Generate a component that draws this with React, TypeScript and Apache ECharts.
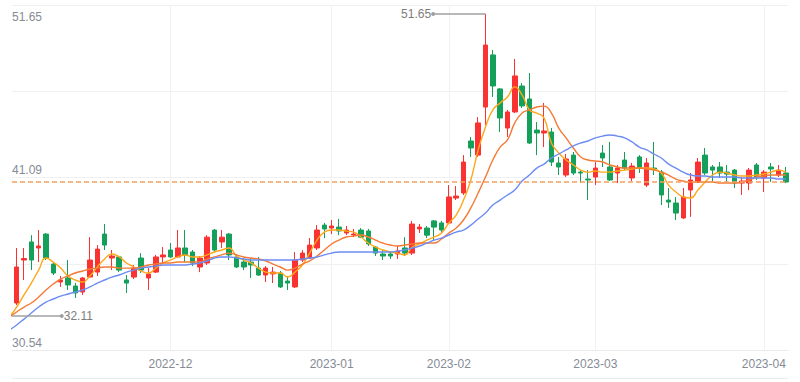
import React, { useEffect, useRef } from "react";
import * as echarts from "echarts";

const dates = [
  "2022-11-01","2022-11-02","2022-11-03","2022-11-04","2022-11-07","2022-11-08","2022-11-09","2022-11-10","2022-11-11","2022-11-14",
  "2022-11-15","2022-11-16","2022-11-17","2022-11-18","2022-11-21","2022-11-22","2022-11-23","2022-11-24","2022-11-25","2022-11-28",
  "2022-11-29","2022-11-30","2022-12-01","2022-12-02","2022-12-05","2022-12-06","2022-12-07","2022-12-08","2022-12-09","2022-12-12",
  "2022-12-13","2022-12-14","2022-12-15","2022-12-16","2022-12-19","2022-12-20","2022-12-21","2022-12-22","2022-12-23","2022-12-26",
  "2022-12-27","2022-12-28","2022-12-29","2022-12-30","2023-01-03","2023-01-04","2023-01-05","2023-01-06","2023-01-09","2023-01-10",
  "2023-01-11","2023-01-12","2023-01-13","2023-01-16","2023-01-17","2023-01-18","2023-01-19","2023-01-20","2023-01-30","2023-01-31",
  "2023-02-01","2023-02-02","2023-02-03","2023-02-06","2023-02-07","2023-02-08","2023-02-09","2023-02-10","2023-02-13","2023-02-14",
  "2023-02-15","2023-02-16","2023-02-17","2023-02-20","2023-02-21","2023-02-22","2023-02-23","2023-02-24","2023-02-27","2023-02-28",
  "2023-03-01","2023-03-02","2023-03-03","2023-03-06","2023-03-07","2023-03-08","2023-03-09","2023-03-10","2023-03-13","2023-03-14",
  "2023-03-15","2023-03-16","2023-03-17","2023-03-20","2023-03-21","2023-03-22","2023-03-23","2023-03-24","2023-03-27","2023-03-28",
  "2023-03-29","2023-03-30","2023-03-31","2023-04-03","2023-04-04","2023-04-06","2023-04-07",
];

const opens = [
  32.20,32.95,35.73,36.90,36.51,37.41,35.47,34.31,34.57,34.05,
  33.66,34.63,34.95,37.41,35.86,35.93,34.44,34.63,35.86,34.57,
  34.95,35.93,36.38,35.93,36.51,36.25,35.28,35.54,37.67,36.90,
  37.41,35.93,35.60,35.60,35.21,34.76,34.83,34.89,34.37,33.99,
  35.73,35.86,36.51,37.99,37.80,37.86,37.48,37.35,37.67,37.61,
  36.57,36.12,36.12,36.12,36.51,36.18,37.74,37.80,38.26,38.13,
  38.13,39.74,40.07,43.43,42.52,45.63,49.00,46.80,44.27,45.31,
  46.99,46.15,44.14,43.95,44.01,42.01,41.23,42.52,41.42,40.97,
  41.10,42.65,41.75,41.36,42.20,41.04,42.40,40.58,41.68,41.42,
  39.61,39.42,38.45,40.26,40.78,42.52,41.75,41.75,41.42,41.55,
  40.71,40.71,41.88,41.04,41.75,41.23,41.36,
];
const closes = [
  32.60,35.28,35.83,35.73,36.64,35.86,34.89,34.44,34.12,33.60,
  34.57,35.73,36.44,36.70,35.99,35.08,34.24,35.21,35.08,34.83,
  35.93,36.06,35.93,36.51,36.06,35.54,35.86,37.21,36.38,37.21,
  36.06,35.28,35.28,35.41,34.76,35.21,34.95,33.99,34.24,35.73,
  36.18,36.70,37.67,37.74,37.93,37.61,37.67,37.41,37.21,36.77,
  36.18,35.99,35.99,36.31,36.18,38.06,37.86,37.34,37.86,37.67,
  39.81,39.87,42.07,42.98,44.60,49.64,46.99,44.92,45.31,47.64,
  45.70,43.30,43.95,44.08,42.07,41.75,42.27,41.36,41.36,40.91,
  41.68,42.33,40.91,41.68,41.68,41.81,41.68,42.01,41.62,39.94,
  39.48,38.77,39.81,40.91,42.07,41.36,41.55,41.36,41.29,40.71,
  40.84,41.55,41.10,41.42,41.62,41.55,40.78,
];
const lows = [
  32.11,32.82,34.44,35.08,35.60,35.73,34.76,33.99,33.79,33.28,
  33.47,34.57,34.70,36.38,35.08,34.95,33.60,34.50,34.89,33.79,
  34.89,35.54,35.86,35.86,35.60,35.34,34.95,35.41,36.25,36.51,
  35.73,35.21,35.08,34.57,34.70,34.31,34.24,33.92,33.79,33.92,
  35.60,35.80,36.38,37.15,37.41,37.34,37.34,37.21,37.15,36.64,
  35.99,35.73,35.80,35.80,35.99,36.06,37.48,37.15,37.02,37.48,
  38.06,39.61,39.94,42.40,42.40,44.47,46.28,44.01,43.69,45.24,
  45.57,43.24,42.52,43.04,41.81,41.23,41.10,41.23,40.71,39.61,
  40.58,41.75,40.84,40.71,41.55,40.84,41.36,40.45,41.23,39.29,
  39.10,38.32,38.39,38.52,40.71,41.23,40.78,41.04,40.78,40.39,
  39.94,40.26,40.91,40.13,40.78,41.10,40.71,
];
const highs = [
  32.80,36.51,36.51,37.34,37.67,37.48,35.54,34.70,35.73,34.25,
  34.63,37.21,36.70,38.06,36.38,35.99,34.76,35.41,36.18,35.21,
  36.06,36.57,36.83,37.67,37.67,36.38,35.99,37.34,37.74,37.67,
  37.48,36.12,35.86,35.86,35.93,35.34,35.28,35.02,34.70,36.25,
  36.38,37.15,37.99,38.13,38.32,38.39,37.93,37.74,37.80,37.74,
  36.64,36.38,36.31,36.64,37.21,38.26,38.06,37.93,38.32,38.26,
  40.58,40.52,42.52,43.69,44.98,51.65,49.32,46.86,45.44,48.74,
  47.18,47.83,44.66,45.89,44.27,42.40,42.59,42.72,41.55,41.55,
  42.07,43.17,43.37,41.88,42.72,42.01,42.52,42.33,43.37,41.55,
  40.39,39.81,40.39,41.36,42.33,42.98,41.88,42.07,41.88,41.62,
  41.10,41.68,42.01,41.55,42.01,41.88,41.75,
];

const ma5 = [
  32.04,32.69,33.47,34.24,35.08,35.86,35.60,35.21,34.70,34.44,
  34.31,34.70,35.28,35.80,36.12,35.93,35.54,35.28,35.02,34.89,
  35.21,35.54,35.73,35.93,36.06,35.93,35.93,36.06,36.25,36.38,
  36.51,35.99,35.73,35.54,35.21,34.95,34.89,34.89,34.63,34.95,
  35.41,36.18,37.02,37.54,37.67,37.67,37.60,37.54,37.22,36.83,
  36.57,36.38,36.25,36.18,36.06,36.57,36.77,37.02,37.22,37.48,
  38.13,38.64,39.61,40.91,42.85,44.34,45.44,45.89,46.28,46.93,
  46.41,45.44,45.24,44.92,43.30,42.66,42.20,41.88,41.55,41.42,
  41.49,41.42,41.42,41.49,41.55,41.62,41.68,41.68,41.62,41.36,
  40.58,40.13,39.81,39.74,40.26,40.78,41.23,41.42,41.36,41.23,
  41.17,41.17,41.23,41.30,41.42,41.55,41.42,
];
const ma10 = [
  32.04,32.37,32.69,32.95,33.34,33.79,34.18,34.50,34.70,34.89,
  35.02,35.15,35.21,35.28,35.28,35.21,35.21,35.21,35.28,35.41,
  35.47,35.54,35.54,35.60,35.60,35.60,35.60,35.80,35.93,36.06,
  36.18,36.06,35.93,35.86,35.80,35.67,35.47,35.28,35.08,35.21,
  35.47,35.67,35.99,36.38,36.77,37.02,37.22,37.28,37.35,37.22,
  37.02,36.83,36.70,36.64,36.70,36.77,36.83,36.83,36.83,37.09,
  37.48,37.80,38.32,39.10,40.07,41.10,42.20,43.04,43.50,44.60,
  45.24,45.44,45.63,45.69,45.24,44.27,43.63,42.98,42.40,42.20,
  42.14,42.07,41.88,41.75,41.68,41.68,41.68,41.62,41.55,41.42,
  41.23,40.97,40.84,40.78,40.78,40.78,40.78,40.71,40.71,40.71,
  40.78,40.91,41.10,41.17,41.23,41.23,41.23,
];
const ma20 = [
  31.20,31.53,31.91,32.30,32.69,33.01,33.21,33.40,33.53,33.66,
  33.79,33.99,34.24,34.44,34.63,34.76,34.95,35.08,35.21,35.28,
  35.34,35.41,35.41,35.41,35.41,35.47,35.54,35.67,35.86,35.93,
  35.93,35.86,35.80,35.73,35.73,35.73,35.73,35.73,35.73,35.73,
  35.80,35.86,35.93,36.06,36.18,36.25,36.25,36.25,36.25,36.25,
  36.25,36.25,36.25,36.31,36.38,36.51,36.64,36.83,37.02,37.15,
  37.35,37.54,37.67,37.99,38.39,38.77,39.29,39.61,39.94,40.26,
  40.84,41.23,41.68,41.94,42.33,42.59,42.85,43.11,43.30,43.43,
  43.63,43.75,43.82,43.75,43.63,43.37,43.04,42.85,42.59,42.33,
  41.94,41.68,41.42,41.23,41.17,41.17,41.10,41.10,41.10,41.10,
  41.04,41.04,41.04,41.04,41.04,40.97,40.97,
];

const xTickDates = ["2022-12-01", "2023-01-03", "2023-02-01", "2023-03-01", "2023-04-03"];
const xTickLabels = ["2022-12", "2023-01", "2023-02", "2023-03", "2023-04"];
const yTickLabels = ["30.54", "", "41.09", "", "51.65"];

// visible window of the axes
const X_MIN = 0.36;
const X_MAX = 106.3;
const Y_MIN = 29.91;
const Y_MAX = 52.23;
const CALLOUT = 7.15;

const UP = "#FA3232";
const DOWN = "#14A05A";
const TEXT = "#858b95";

export default function App() {
  const ref = useRef<HTMLDivElement>(null);

  useEffect(() => {
    if (!ref.current) return;
    const chart = echarts.init(ref.current, undefined, { renderer: "svg" });

    const monthIdx = xTickDates.map((d) => dates.indexOf(d));
    const candles = dates.map((_, i) => [i, opens[i], closes[i], lows[i], highs[i]]);
    const toLine = (arr: number[]) => arr.map((v, i) => [i, v]);

    const maxVal = Math.max(...highs);
    const maxIdx = highs.indexOf(maxVal);
    const minVal = Math.min(...lows);
    const minIdx = lows.indexOf(minVal);
    const lastClose = closes[closes.length - 1];

    const calloutLine = { color: "#a0a0a0", width: 1.5, type: "solid" };
    const calloutLabel = { show: true, position: "end", color: "#7d7d7d", fontSize: 12, distance: 2 };

    const option: any = {
      animation: false,
      backgroundColor: "#ffffff",
      textStyle: { fontFamily: "Liberation Sans, Arial, sans-serif" },
      grid: { left: 12, right: 12, top: 5, bottom: 32, containLabel: false },
      graphic: [
        {
          type: "line",
          shape: { x1: 12, y1: 378.5, x2: 788, y2: 378.5 },
          style: { stroke: "#ececec", lineWidth: 1 },
          silent: true,
        },
      ],
      xAxis: {
        type: "value",
        min: X_MIN,
        max: X_MAX,
        axisLine: { show: true, onZero: false, lineStyle: { color: "#ebebeb" } },
        axisTick: { show: false, customValues: monthIdx },
        axisLabel: {
          customValues: monthIdx,
          color: TEXT,
          fontSize: 12,
          margin: 8,
          formatter: (v: number) => {
            const k = monthIdx.indexOf(Math.round(v));
            return k >= 0 ? xTickLabels[k] : "";
          },
        },
        splitLine: { show: true, lineStyle: { color: "#f1f1f1", width: 1 } },
      },
      yAxis: [
        {
          type: "value",
          min: Y_MIN,
          max: Y_MAX,
          show: false,
          axisLine: { onZero: false },
          splitLine: { show: false },
        },
        {
          type: "value",
          min: 0,
          max: yTickLabels.length - 1,
          interval: 1,
          position: "left",
          axisLine: { show: false, onZero: false },
          axisTick: { show: false },
          splitLine: { show: true, lineStyle: { color: "#f0f0f0", width: 1 } },
          axisLabel: {
            inside: true,
            margin: 0,
            formatter: (v: number) => {
              const i = Math.round(v);
              const s = yTickLabels[i] || "";
              if (!s) return "";
              return i === yTickLabels.length - 1 ? `{t|${s}}` : `{b|${s}}`;
            },
            rich: {
              t: { padding: [24, 0, 0, 0], color: TEXT, fontSize: 12 },
              b: { padding: [0, 0, 15, 0], color: TEXT, fontSize: 12 },
            },
          },
        },
      ],
      series: [
        {
          name: "K",
          type: "candlestick",
          xAxisIndex: 0,
          yAxisIndex: 0,
          data: candles,
          barWidth: 5,
          itemStyle: {
            color: UP,
            color0: DOWN,
            borderColor: UP,
            borderColor0: DOWN,
            borderWidth: 1,
          },
          markLine: {
            silent: true,
            symbol: ["none", "none"],
            label: { show: false },
            data: [
              {
                yAxis: lastClose,
                lineStyle: { type: [5, 3], color: "#F5A15E", width: 1.6 },
                label: { show: false },
              },
              [
                {
                  coord: [maxIdx, maxVal],
                  symbol: "none",
                  lineStyle: calloutLine,
                  label: { ...calloutLabel, formatter: maxVal.toFixed(2) },
                },
                { coord: [maxIdx - CALLOUT, maxVal], symbol: "circle", symbolSize: 4 },
              ],
              [
                {
                  coord: [Math.max(minIdx, X_MIN), minVal],
                  symbol: "none",
                  lineStyle: calloutLine,
                  label: { ...calloutLabel, formatter: minVal.toFixed(2) },
                },
                { coord: [minIdx + CALLOUT, minVal], symbol: "circle", symbolSize: 4 },
              ],
            ],
          },
        },
        {
          name: "MA5",
          type: "line",
          data: toLine(ma5),
          smooth: true,
          showSymbol: false,
          lineStyle: { color: "#FFA719", width: 1.4 },
        },
        {
          name: "MA10",
          type: "line",
          data: toLine(ma10),
          smooth: true,
          showSymbol: false,
          lineStyle: { color: "#F47A36", width: 1.4 },
        },
        {
          name: "MA20",
          type: "line",
          data: toLine(ma20),
          smooth: true,
          showSymbol: false,
          lineStyle: { color: "#6C8CF2", width: 1.4 },
        },
      ],
    };

    chart.setOption(option);
    return () => chart.dispose();
  }, []);

  return (
    <div
      ref={ref}
      style={{ position: "fixed", left: 0, top: 0, width: 800, height: 382, background: "#fff" }}
    />
  );
}
